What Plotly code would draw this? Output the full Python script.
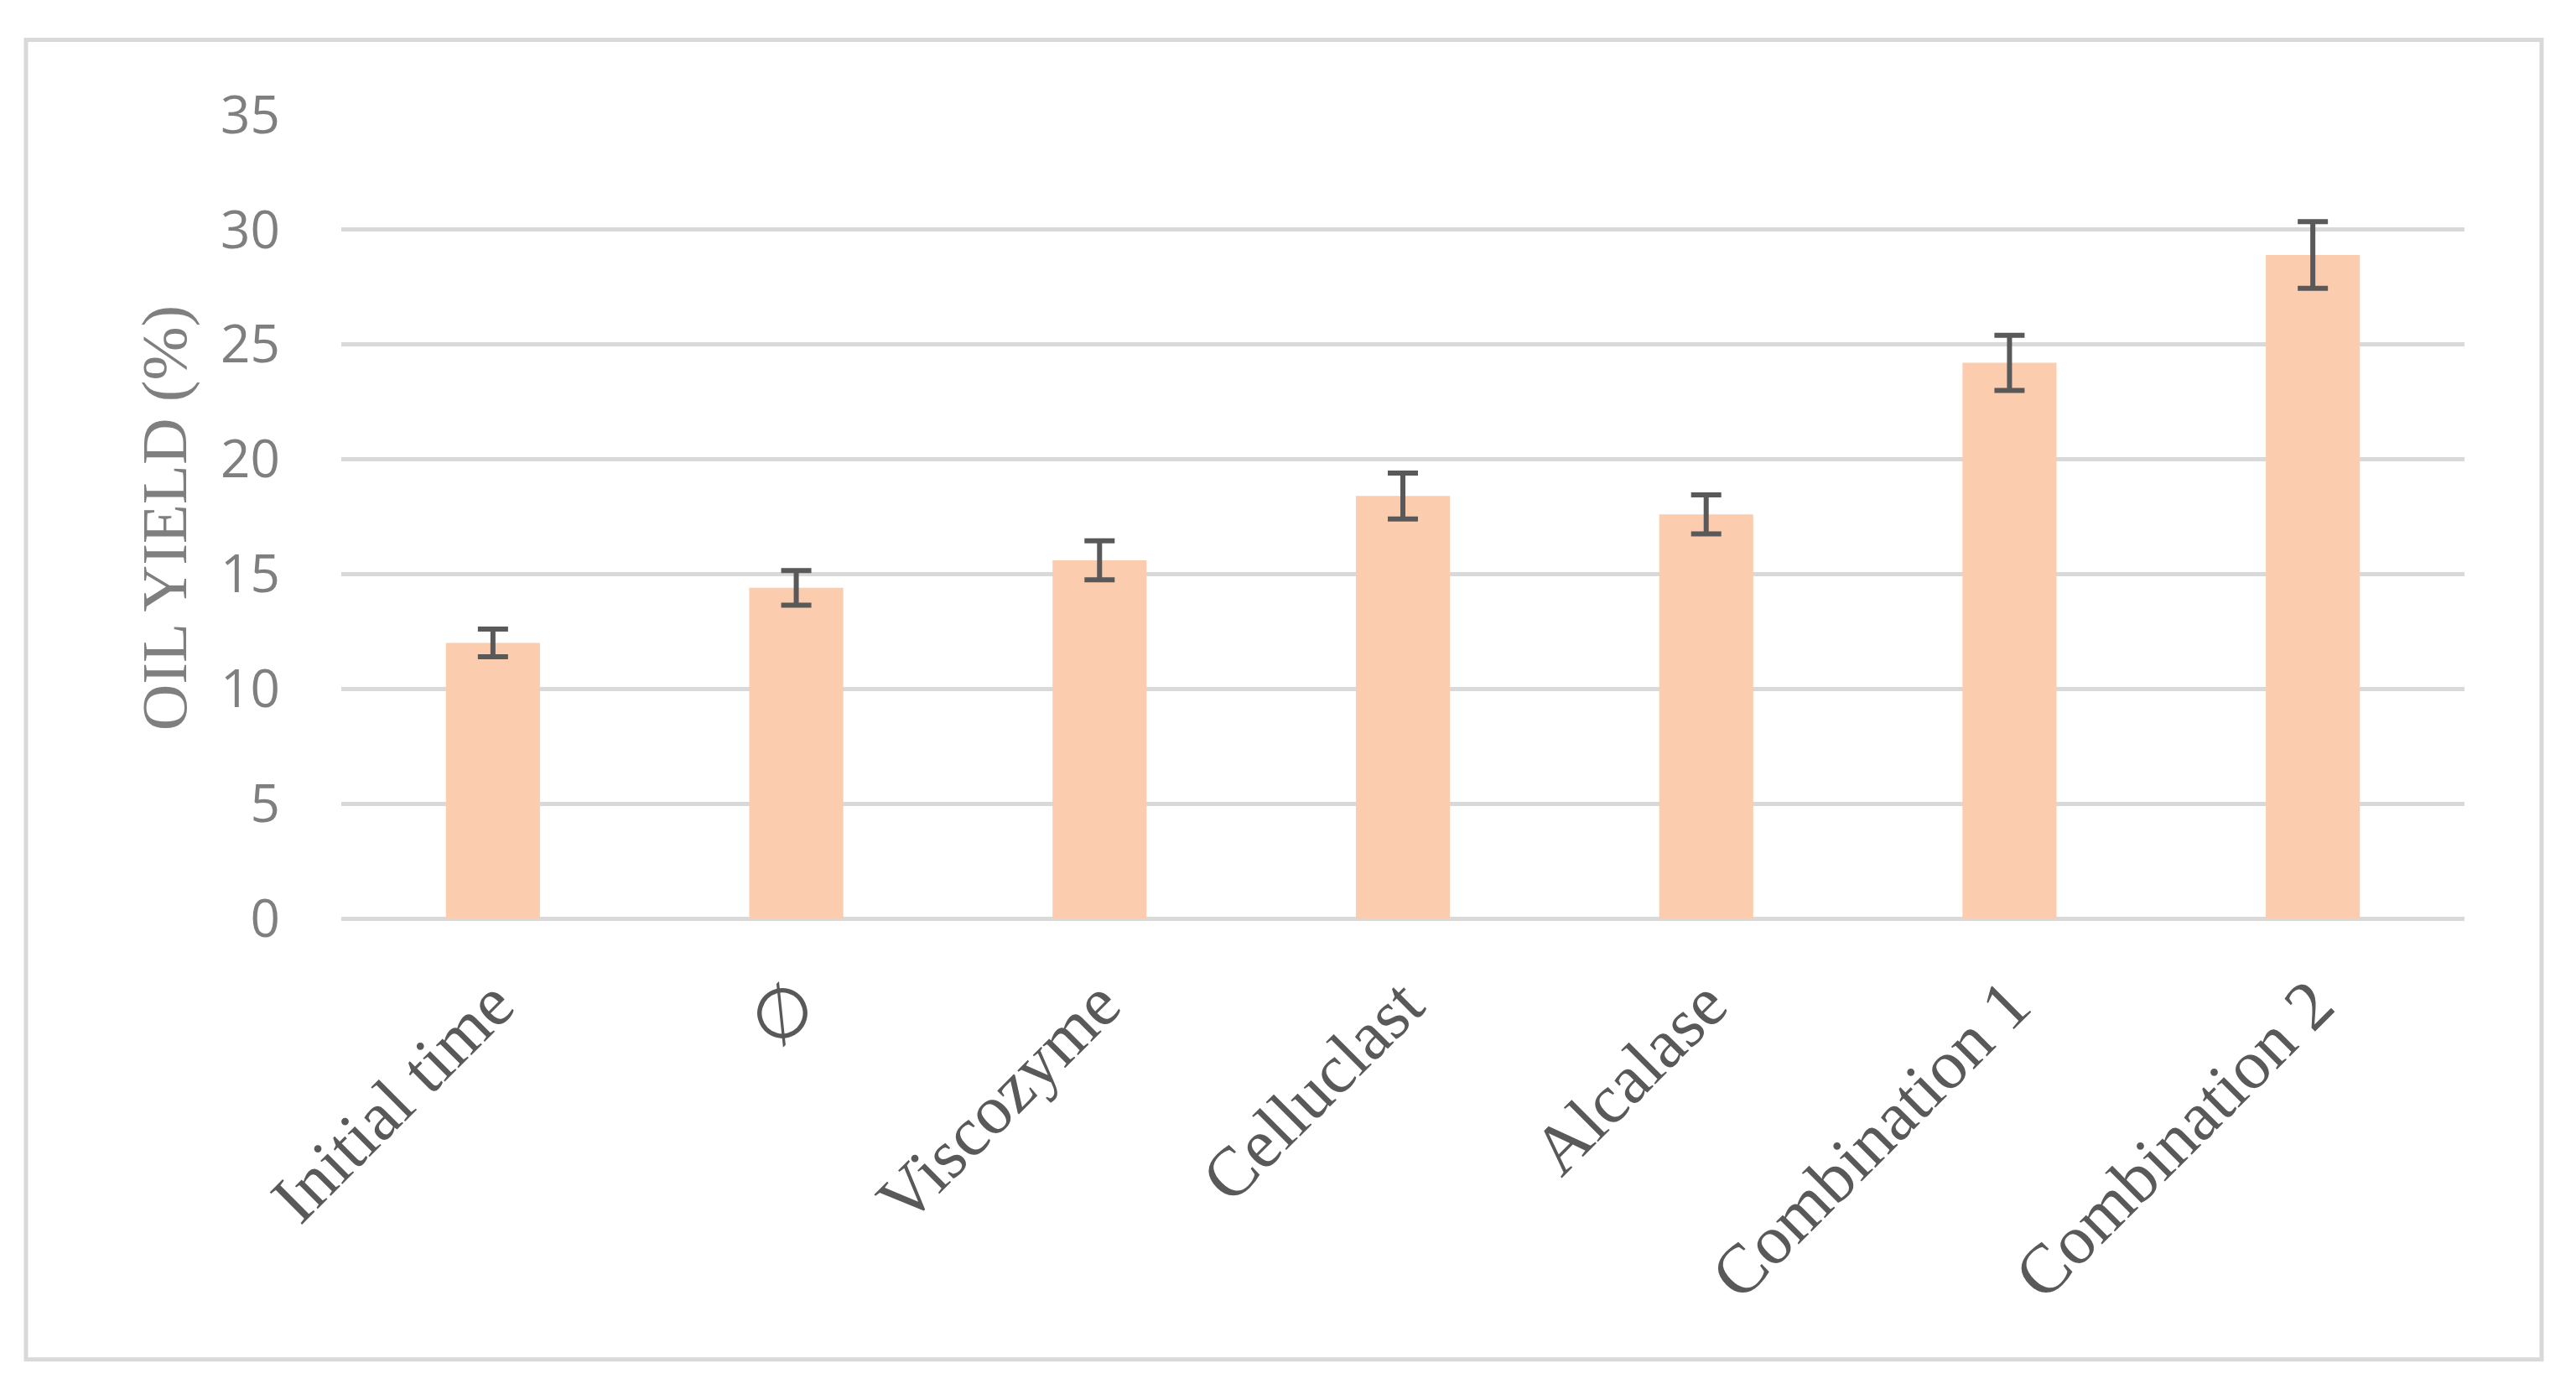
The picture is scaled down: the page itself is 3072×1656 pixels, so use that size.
import plotly.graph_objects as go

categories = ["Initial time", "\u2205", "Viscozyme", "Celluclast", "Alcalase", "Combination 1", "Combination 2"]
oil_yield = [12.0, 14.4, 15.6, 18.4, 17.6, 24.2, 28.9]
error_sd = [0.6, 0.75, 0.85, 1.0, 0.85, 1.2, 1.45]
y_ticks = [0, 5, 10, 15, 20, 25, 30, 35]

# page body has an 8px default margin; work in page pixels and shift
OFF = 8
W, H = 3072 - 2 * OFF, 1656 - 2 * OFF
PL, PR, PT, PB = 407 - OFF, 2939 - OFF, 136.5 - OFF, 1095 - OFF
pw, ph = PR - PL, PB - PT

def px_x(x):
    return (x - OFF - PL) / pw

def px_y(y):
    return (PB - (y - OFF)) / ph

fig = go.Figure()
fig.add_trace(go.Bar(
    x=categories,
    y=oil_yield,
    width=0.31,
    marker=dict(color="#FCCCAE", line=dict(width=0)),
    error_y=dict(type="data", array=error_sd, visible=True,
                 color="#595959", thickness=6, width=18),
))

fig.update_layout(
    width=W, height=H,
    margin=dict(l=PL, r=W - PR, t=PT, b=H - PB, autoexpand=False),
    paper_bgcolor="white",
    plot_bgcolor="white",
    showlegend=False,
    xaxis=dict(
        tickangle=-45,
        tickfont=dict(family="Liberation Serif", size=83, color="#595959"),
        showgrid=False, showline=False, ticks="",
        ticklabelstandoff=36,
        automargin=False,
    ),
    yaxis=dict(
        range=[0, 35],
        tickvals=y_ticks,
        tickfont=dict(family="Open Sans", size=62, color="#7f7f7f"),
        showgrid=True, gridcolor="#d9d9d9", gridwidth=5,
        zeroline=True, zerolinecolor="#d9d9d9", zerolinewidth=5,
        showline=False, ticks="",
        ticklabelstandoff=72,
        automargin=False,
    ),
    annotations=[dict(
        text="OIL YIELD (%)", textangle=-90,
        x=px_x(196), y=px_y(618), xref="paper", yref="paper",
        xanchor="center", yanchor="middle", showarrow=False,
        font=dict(family="Liberation Serif", size=77, color="#7f7f7f"),
    )],
    shapes=[dict(
        type="rect", xref="paper", yref="paper",
        x0=px_x(31), x1=px_x(3031), y0=px_y(1621), y1=px_y(47),
        line=dict(color="#d9d9d9", width=5), fillcolor="rgba(0,0,0,0)",
        layer="below",
    )],
)

fig.write_html("out.html")
